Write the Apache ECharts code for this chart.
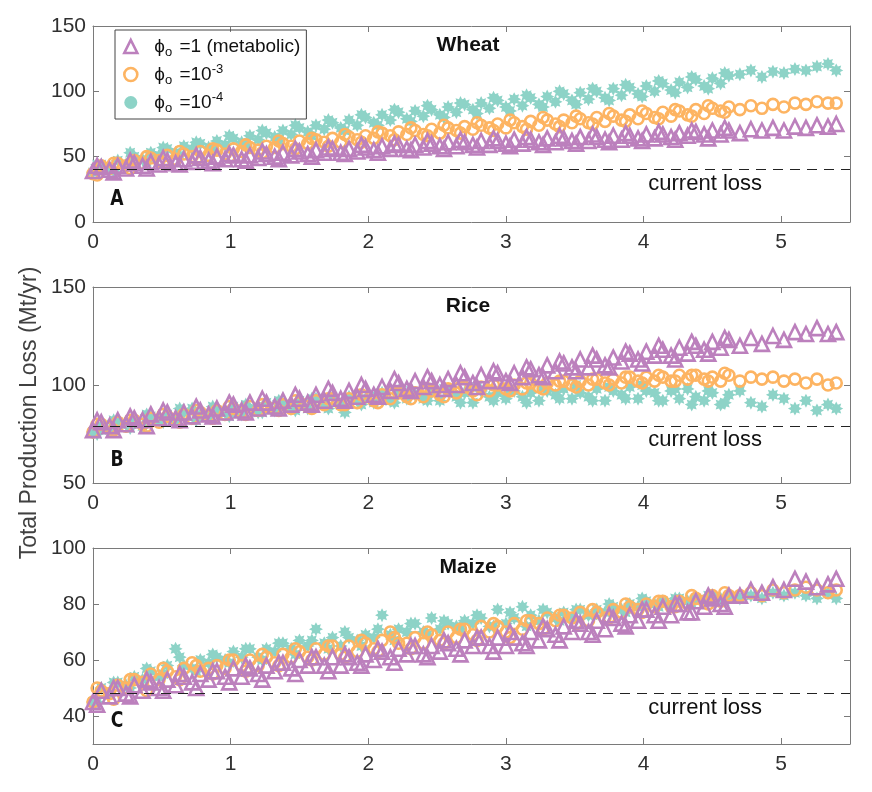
<!DOCTYPE html>
<html>
<head>
<meta charset="utf-8">
<script src="https://cdn.jsdelivr.net/npm/echarts@6/dist/echarts.min.js"></script>
<style>
  html, body { margin: 0; padding: 0; background: #fff; }
  #chart { width: 872px; height: 792px; }
</style>
</head>
<body>
<div id="chart"></div>
<script>
// warming (x) for the main runs
var xs = [0, 0.06, 0.12, 0.18, 0.24, 0.3, 0.36, 0.42, 0.48, 0.54,
  0.6, 0.66, 0.72, 0.78, 0.84, 0.9, 0.96, 1.02, 1.08, 1.14,
  1.2, 1.26, 1.32, 1.38, 1.44, 1.5, 1.56, 1.62, 1.68, 1.74,
  1.8, 1.86, 1.92, 1.98, 2.04, 2.1, 2.16, 2.22, 2.28, 2.34,
  2.4, 2.46, 2.52, 2.58, 2.64, 2.7, 2.76, 2.82, 2.88, 2.94,
  3.0, 3.06, 3.12, 3.18, 3.24, 3.3, 3.36, 3.42, 3.48, 3.54,
  3.6, 3.66, 3.72, 3.78, 3.84, 3.9, 3.96, 4.02, 4.08, 4.14,
  4.2, 4.26, 4.32, 4.38, 4.44, 4.5, 4.56, 4.62,
  4.7, 4.78, 4.86, 4.94, 5.02, 5.1, 5.18, 5.26, 5.34, 5.4];
// warming (x) for the extra runs
var xs2 = [0.03, 0.15, 0.27, 0.39, 0.51, 0.63, 0.75, 0.87, 0.99, 1.11,
  1.23, 1.35, 1.47, 1.59, 1.71, 1.83, 1.95, 2.07, 2.19, 2.31,
  2.43, 2.55, 2.67, 2.79, 2.91, 3.03, 3.15, 3.27, 3.39, 3.51,
  3.63, 3.75, 3.87, 3.99, 4.11, 4.23, 4.35, 4.47, 4.59];

// Wheat
var wheatMetabolic = [39, 42, 40, 43, 41, 45, 43, 46, 44, 47,
  45, 48, 46, 49, 47, 50, 48, 51, 48, 51,
  49, 52, 50, 53, 51, 54, 52, 55, 53, 56,
  53, 56, 54, 57, 55, 58, 56, 59, 56, 59,
  57, 60, 58, 61, 58, 61, 59, 62, 59, 62,
  60, 63, 60, 63, 61, 64, 61, 64, 62, 65,
  62, 65, 63, 66, 63, 66, 64, 67, 64, 67,
  65, 68, 66, 69, 67, 70, 67, 70,
  68, 71, 70, 72, 70, 73, 72, 74, 73, 75];
var wheatMetabolic2 = [43, 38, 47, 41, 49, 44, 51, 45, 52, 47, 54, 48, 56, 50, 57, 52, 59, 53, 60, 55,
  62, 56, 63, 57, 64, 58, 65, 59, 66, 60, 67, 61, 68, 62, 69, 63, 70, 64, 72];
var wheatE3 = [37, 43, 41, 45, 43, 47, 45, 49, 47, 51,
  48, 52, 50, 54, 51, 55, 52, 56, 54, 57,
  55, 58, 57, 60, 58, 62, 60, 63, 61, 64,
  61, 65, 63, 66, 64, 68, 66, 69, 67, 70,
  67, 71, 68, 72, 70, 73, 71, 74, 72, 75,
  72, 76, 73, 77, 74, 78, 75, 78, 76, 79,
  76, 80, 77, 81, 78, 82, 79, 83, 80, 84,
  81, 85, 82, 86, 83, 87, 85, 88,
  86, 89, 87, 90, 88, 91, 90, 92, 91, 91];
var wheatE3b = [36, 45, 41, 50, 45, 54, 48, 56, 50, 59, 53, 62, 56, 64, 58, 67, 61, 69, 63, 72,
  66, 74, 68, 76, 70, 78, 71, 80, 73, 81, 75, 83, 77, 85, 79, 86, 81, 89, 84];
var wheatE4 = [38, 44, 42, 47, 44, 50, 48, 53, 51, 56,
  53, 58, 56, 60, 57, 62, 59, 64, 61, 66,
  63, 68, 65, 70, 67, 72, 69, 74, 71, 76,
  72, 78, 74, 80, 76, 82, 78, 84, 79, 85,
  81, 86, 82, 88, 84, 90, 86, 91, 87, 93,
  88, 94, 89, 95, 90, 96, 92, 98, 93, 99,
  94, 100, 95, 102, 97, 103, 98, 104, 100, 106,
  101, 107, 103, 109, 104, 110, 106, 112,
  113, 116, 111, 115, 114, 117, 116, 119, 121, 116];
var wheatE4b = [44, 39, 53, 46, 57, 51, 61, 55, 66, 59, 70, 62, 74, 66, 78, 70, 82, 74, 86, 77,
  89, 80, 91, 83, 95, 85, 97, 88, 100, 90, 102, 93, 105, 96, 108, 99, 111, 102, 114];

// Rice
var riceMetabolic = [77, 81, 79, 82, 80, 83, 82, 85, 83, 86,
  83, 86, 84, 87, 85, 88, 86, 90, 87, 91,
  88, 91, 89, 92, 90, 93, 91, 95, 92, 96,
  93, 97, 94, 98, 95, 99, 97, 101, 98, 102,
  99, 102, 100, 103, 100, 104, 101, 105, 102, 106,
  102, 106, 104, 108, 105, 110, 107, 111, 109, 113,
  109, 113, 110, 114, 112, 116, 113, 117, 115, 118,
  115, 119, 116, 120, 118, 122, 119, 123,
  120, 124, 121, 125, 123, 127, 126, 129, 126, 127];
var riceMetabolic2 = [82, 77, 84, 79, 87, 82, 89, 84, 91, 86, 93, 88, 95, 90, 98, 92, 100, 94, 103, 97,
  104, 98, 106, 99, 107, 101, 109, 104, 112, 107, 115, 109, 117, 111, 120, 113, 122, 116, 124];
var riceE3 = [76, 80, 78, 81, 79, 82, 80, 83, 81, 84,
  82, 85, 83, 86, 84, 87, 85, 88, 86, 89,
  87, 89, 88, 90, 88, 91, 89, 92, 90, 93,
  90, 93, 91, 94, 92, 95, 93, 96, 94, 96,
  94, 97, 95, 98, 96, 99, 97, 99, 97, 100,
  98, 100, 98, 101, 99, 101, 100, 102, 100, 102,
  100, 103, 101, 103, 101, 104, 102, 104, 102, 104,
  102, 105, 103, 105, 103, 104, 102, 105,
  102, 104, 103, 104, 102, 103, 101, 103, 100, 101];
var riceE3b = [80, 77, 82, 79, 85, 81, 87, 83, 89, 85, 90, 87, 92, 88, 93, 90, 95, 91, 96, 93,
  98, 94, 99, 95, 100, 97, 101, 98, 102, 99, 103, 100, 104, 101, 105, 102, 105, 102, 106];
var riceE4 = [76, 79, 77, 81, 80, 82, 79, 84, 82, 85,
  82, 86, 88, 85, 84, 87, 86, 89, 85, 88,
  86, 91, 87, 90, 89, 92, 88, 93, 90, 94,
  90, 94, 92, 93, 91, 96, 92, 97, 93, 95,
  93, 96, 92, 97, 94, 96, 91, 97, 94, 96,
  93, 97, 94, 96, 92, 97, 95, 98, 93, 96,
  94, 98, 92, 97, 95, 99, 93, 97, 96, 92,
  97, 93, 98, 94, 92, 96, 90, 95,
  97, 91, 89, 95, 93, 88, 92, 87, 90, 88];
var riceE4b = [75, 82, 78, 85, 81, 88, 82, 89, 84, 90, 86, 92, 87, 93, 88, 86, 90, 96, 91, 97,
  92, 98, 91, 99, 92, 98, 91, 99, 93, 100, 92, 99, 93, 100, 92, 98, 90, 97, 91];

// Maize
var maizeMetabolic = [45, 49, 47, 50, 48, 51, 49, 52, 50, 53,
  51, 54, 52, 55, 53, 56, 54, 57, 54, 57,
  55, 58, 56, 59, 57, 60, 58, 61, 58, 61,
  58, 61, 59, 62, 60, 63, 61, 64, 62, 65,
  62, 65, 63, 66, 64, 67, 65, 68, 65, 68,
  65, 68, 66, 70, 67, 71, 69, 72, 70, 73,
  70, 74, 71, 75, 73, 76, 74, 78, 76, 79,
  76, 80, 77, 81, 79, 82, 80, 83,
  83, 85, 84, 86, 85, 89, 88, 86, 87, 89];
var maizeMetabolic2 = [44, 50, 47, 53, 49, 55, 50, 56, 52, 58, 53, 59, 55, 61, 56, 62, 58, 64, 59, 65,
  61, 67, 62, 68, 63, 70, 65, 72, 67, 74, 69, 76, 72, 78, 74, 80, 77, 83, 79];
var maizeE3 = [45, 49, 48, 51, 50, 53, 52, 55, 53, 56,
  54, 57, 59, 56, 57, 58, 57, 60, 58, 60,
  58, 61, 59, 62, 61, 63, 61, 64, 62, 65,
  62, 65, 63, 66, 64, 67, 70, 66, 66, 68,
  66, 69, 67, 70, 68, 71, 69, 72, 70, 72,
  70, 73, 71, 74, 73, 75, 74, 76, 75, 77,
  74, 77, 75, 78, 77, 79, 78, 80, 79, 81,
  79, 81, 80, 82, 81, 83, 81, 83,
  83, 84, 83, 85, 84, 85, 86, 85, 84, 85];
var maizeE3b = [50, 46, 53, 49, 57, 53, 58, 55, 60, 56, 62, 58, 64, 60, 65, 61, 67, 63, 68, 64,
  70, 66, 71, 67, 73, 68, 74, 71, 76, 73, 78, 75, 80, 77, 81, 79, 83, 80, 84];
var maizeE4 = [45, 50, 48, 52, 51, 54, 53, 56, 54, 58,
  64, 58, 57, 60, 59, 61, 60, 63, 61, 64,
  61, 64, 63, 66, 64, 67, 65, 71, 66, 68,
  65, 68, 67, 69, 68, 76, 69, 71, 70, 73,
  70, 75, 71, 73, 72, 74, 73, 75, 72, 78,
  73, 75, 79, 76, 74, 77, 75, 77, 75, 78,
  76, 78, 77, 79, 78, 80, 79, 81, 80, 81,
  80, 82, 81, 82, 81, 83, 82, 83,
  82, 83, 82, 84, 83, 84, 83, 82, 84, 82];
var maizeE4b = [45, 52, 50, 57, 55, 61, 56, 62, 59, 64, 60, 66, 62, 67, 64, 70, 65, 71, 67, 73,
  69, 74, 71, 76, 72, 77, 72, 78, 74, 78, 76, 80, 77, 82, 79, 82, 80, 83, 81];

var currentLoss = [40, 79, 48];
var cropNames = ['Wheat', 'Rice', 'Maize'];
var panelLetters = ['A', 'B', 'C'];
var yMins = [0, 50, 30];
var yMaxs = [150, 150, 100];
var yTicks = [[0, 50, 100, 150], [50, 100, 150], [40, 60, 80, 100]];
var xTicks = [0, 1, 2, 3, 4, 5];

var PURPLE = '#BC80BD', ORANGE = '#FDB462', TEAL = '#8DD3C7';
var FRAME = '#7a7a7a', LABEL = '#303030';

// asterisk-like marker
var pts = [];
for (var k = 0; k < 16; k++) {
  var r = k % 2 ? 6 : 10;
  var a = Math.PI * k / 8;
  pts.push((10 + r * Math.sin(a)).toFixed(2) + ' ' + (10 - r * Math.cos(a)).toFixed(2));
}
var starPath = 'path://M' + pts.join(' L') + ' Z';

function pairs(x, ys) {
  return x.map(function (v, i) { return [v, ys[i]]; });
}

var panels = [
  [[wheatE4, wheatE4b], [wheatE3, wheatE3b], [wheatMetabolic, wheatMetabolic2]],
  [[riceE4, riceE4b], [riceE3, riceE3b], [riceMetabolic, riceMetabolic2]],
  [[maizeE4, maizeE4b], [maizeE3, maizeE3b], [maizeMetabolic, maizeMetabolic2]]
];
var gridTops = [26, 287, 548];
var gridH = 196;

var grids = [], xAxes = [], yAxes = [], series = [], graphics = [];

gridTops.forEach(function (top, p) {
  grids.push({ left: 93, right: 22, top: top, height: gridH });

  var xBase = {
    gridIndex: p, type: 'value', min: 0, max: 5.5,
    splitLine: { show: false },
    axisLine: { show: true, onZero: false, lineStyle: { color: FRAME, width: 1 } },
    axisTick: { show: true, inside: true, length: 6, lineStyle: { color: FRAME }, customValues: xTicks },
    axisLabel: { show: true, fontSize: 21, color: LABEL, margin: 10, fontFamily: 'Liberation Sans', customValues: xTicks }
  };
  xAxes.push(xBase);
  xAxes.push(Object.assign({}, xBase, { position: 'top', axisLabel: { show: false } }));

  var yBase = {
    gridIndex: p, type: 'value', min: yMins[p], max: yMaxs[p],
    splitLine: { show: false },
    axisLine: { show: true, onZero: false, lineStyle: { color: FRAME, width: 1 } },
    axisTick: { show: true, inside: true, length: 6, lineStyle: { color: FRAME }, customValues: yTicks[p] },
    axisLabel: { show: true, fontSize: 21, color: LABEL, margin: 7, fontFamily: 'Liberation Sans', customValues: yTicks[p] }
  };
  yAxes.push(yBase);
  yAxes.push(Object.assign({}, yBase, { position: 'right', axisLabel: { show: false } }));

  var set = panels[p];
  series.push({
    name: 'e4', type: 'scatter', xAxisIndex: 2 * p, yAxisIndex: 2 * p,
    data: pairs(xs, set[0][0]).concat(pairs(xs2, set[0][1])), symbol: starPath, symbolSize: 14,
    itemStyle: { color: TEAL, opacity: 1 }
  });
  series.push({
    name: 'e3', type: 'scatter', xAxisIndex: 2 * p, yAxisIndex: 2 * p,
    data: pairs(xs, set[1][0]).concat(pairs(xs2, set[1][1])), symbol: 'circle', symbolSize: 11,
    itemStyle: { color: 'rgba(255,255,255,0)', borderColor: ORANGE, borderWidth: 2.6, opacity: 1 }
  });
  series.push({
    name: 'metabolic', type: 'scatter', xAxisIndex: 2 * p, yAxisIndex: 2 * p,
    data: pairs(xs, set[2][0]).concat(pairs(xs2, set[2][1])), symbol: 'triangle', symbolSize: 14,
    itemStyle: { color: 'rgba(255,255,255,0)', borderColor: PURPLE, borderWidth: 2.6, opacity: 1 },
    markLine: {
      silent: true, symbol: 'none', animation: false,
      lineStyle: { color: '#222', type: [10, 7], width: 1 },
      label: {
        show: true, formatter: 'current loss', position: 'insideEndBottom',
        distance: [88, 3], fontSize: 22, color: '#111', fontFamily: 'Liberation Sans'
      },
      data: [{ yAxis: currentLoss[p] }]
    }
  });

  graphics.push({
    type: 'text', x: 468, y: top + 19,
    style: { text: cropNames[p], font: 'bold 21px "Liberation Sans"', fill: '#111', textAlign: 'center', textVerticalAlign: 'middle' }
  });
  graphics.push({
    type: 'text', x: 117, y: top + 173, scaleX: 0.78,
    style: { text: panelLetters[p], font: 'bold 22px "DejaVu Sans"', fill: '#111', textAlign: 'center', textVerticalAlign: 'middle' }
  });
});

graphics.push({
  type: 'text', x: 30, y: 413, rotation: Math.PI / 2,
  style: { text: 'Total Production Loss (Mt/yr)', font: '23px "Liberation Sans"', fill: '#404040', textAlign: 'center', textVerticalAlign: 'middle' }
});

var legendLabels = {
  metabolic: '\u03d5{sub|o} =1 (metabolic)',
  e3: '\u03d5{sub|o} =10{sup|-3}',
  e4: '\u03d5{sub|o} =10{sup|-4}'
};

var chart = echarts.init(document.getElementById('chart'));
chart.setOption({
  animation: false,
  backgroundColor: '#fff',
  grid: grids,
  xAxis: xAxes,
  yAxis: yAxes,
  legend: {
    left: 115, top: 30, orient: 'vertical',
    borderColor: '#444', borderWidth: 1, padding: [4, 6, 4, 8],
    itemGap: 3, itemWidth: 13, itemHeight: 13,
    data: [
      { name: 'metabolic', icon: 'triangle', itemStyle: { color: 'rgba(255,255,255,0)', borderColor: PURPLE, borderWidth: 2.6 } },
      { name: 'e3', icon: 'circle', itemStyle: { color: 'rgba(255,255,255,0)', borderColor: ORANGE, borderWidth: 2.6 } },
      { name: 'e4', icon: 'circle', itemStyle: { color: TEAL, borderWidth: 0 } }
    ],
    formatter: function (name) { return legendLabels[name]; },
    textStyle: {
      fontSize: 19, color: '#111', fontFamily: 'Liberation Sans', lineHeight: 25, padding: [0, 0, 0, 12],
      rich: {
        sub: { fontSize: 13, color: '#111', padding: [12, 2, 0, 0] },
        sup: { fontSize: 13, color: '#111', padding: [0, 0, 10, 0] }
      }
    }
  },
  graphic: graphics,
  series: series
});
</script>
</body>
</html>
